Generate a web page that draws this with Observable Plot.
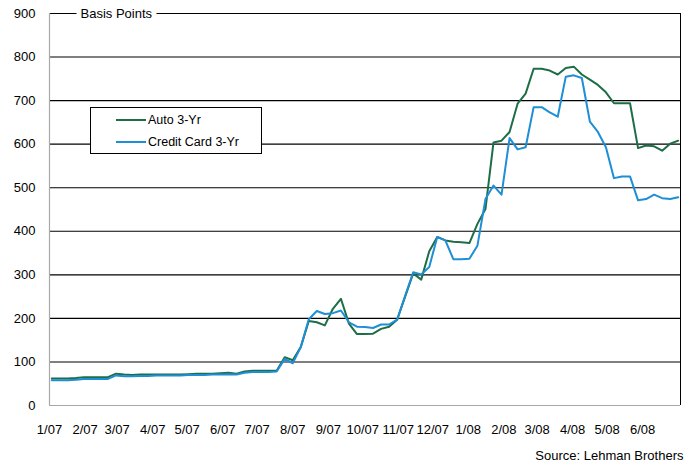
<!DOCTYPE html>
<html>
<head>
<meta charset="utf-8">
<script src="https://cdn.jsdelivr.net/npm/d3@7"></script>
<script src="https://cdn.jsdelivr.net/npm/@observablehq/plot@0.6"></script>
<style>
  html, body { margin: 0; padding: 0; background: #fff; }
  #wrap { position: relative; width: 689px; height: 463px; font-family: "Liberation Sans", Arial, sans-serif; }
  #legend { position: absolute; left: 90px; top: 107px; width: 170px; height: 45px; border: 1px solid #000; background: #fff; font-size: 12.5px; color: #000; }
  .row { position: absolute; left: 0; height: 16px; width: 100%; }
  .sw { position: absolute; left: 25px; width: 30px; top: 7px; height: 2px; }
  .lb { position: absolute; left: 57px; top: 0; line-height: 16px; white-space: nowrap; }
</style>
</head>
<body>
<div id="wrap"></div>
<script>
// ---- data (weekly observations, basis points) ----
const seriesNames = ["Auto 3-Yr", "Credit Card 3-Yr"];
const seriesColors = ["#1d6e47", "#1e8ed6"];

const startDate = "2007-01-03"; // first weekly observation
const autoValues = [
  62, 62, 62, 63, 65, 65, 65, 65, 73, 71,
  70, 71, 71, 71, 71, 71, 71, 72, 73, 73,
  73, 74, 75, 73, 78, 80, 80, 80, 80, 111,
  104, 134, 194, 191, 184, 222, 245, 188, 164, 164,
  165, 176, 181, 197, 250, 303, 289, 354, 387, 379,
  376, 375, 373, 417, 451, 604, 608, 628, 693, 716,
  773, 773, 769, 760, 775, 778, 760, 748, 736, 719,
  694, 694, 694, 591, 597, 595, 585, 601, 608
];
const cardValues = [
  58, 58, 58, 59, 61, 61, 61, 61, 69, 67,
  67, 68, 68, 69, 69, 69, 69, 70, 70, 70,
  71, 71, 72, 71, 75, 77, 77, 77, 78, 107,
  97, 134, 198, 217, 210, 212, 218, 191, 181, 180,
  178, 186, 186, 197, 252, 306, 301, 318, 387, 379,
  336, 336, 337, 367, 474, 505, 484, 614, 588, 593,
  685, 685, 673, 663, 755, 758, 752, 652, 628, 593,
  522, 526, 526, 471, 474, 484, 476, 474, 478
];

const xTickLabels = ["1/07","2/07","3/07","4/07","5/07","6/07","7/07","8/07","9/07",
  "10/07","11/07","12/07","1/08","2/08","3/08","4/08","5/08","6/08"];
const yTicks = [0, 100, 200, 300, 400, 500, 600, 700, 800, 900];
const xDomain = [new Date(Date.UTC(2007, 0, 1)), new Date(Date.UTC(2008, 6, 4))];

// ---- build table ----
const start = new Date(startDate + "T00:00:00Z");
const data = autoValues.map((v, i) => ({
  date: d3.utcDay.offset(start, 7 * i),
  auto: v,
  card: cardValues[i]
}));
const xTickDates = xTickLabels.map(s => {
  const [m, y] = s.split("/");
  return new Date(Date.UTC(2000 + +y, +m - 1, 1));
});
const fmt = d3.utcFormat("%-m/%y");

const chart = Plot.plot({
  width: 689,
  height: 463,
  marginLeft: 49,
  marginRight: 9,
  marginTop: 13,
  marginBottom: 58,
  style: { fontFamily: "'Liberation Sans', Arial, sans-serif", fontSize: "13px", color: "#000", background: "#fff", overflow: "visible" },
  x: { type: "utc", domain: xDomain, ticks: xTickDates, tickFormat: fmt, tickSize: 0, tickPadding: 19, label: null },
  y: { domain: [0, 900], ticks: yTicks, tickSize: 0, tickPadding: 14, label: null },
  marks: [
    Plot.ruleY(yTicks.filter(d => d > 0), { stroke: "#000", strokeWidth: 1.1 }),
    Plot.ruleY([0], { stroke: "#a8a8a8", strokeWidth: 1.2 }),
    Plot.ruleX([xDomain[0]], { stroke: "#a8a8a8", strokeWidth: 1.2 }),
    Plot.ruleX([xDomain[1]], { stroke: "#000", strokeWidth: 1 }),
    Plot.text(["Basis Points"], {
      frameAnchor: "top-left", dx: 31, textAnchor: "start", lineAnchor: "middle",
      fill: "#000", stroke: "#fff", strokeWidth: 10, strokeLinejoin: "round", fontSize: 13
    }),
    Plot.line(data, { x: "date", y: "auto", stroke: seriesColors[0], strokeWidth: 2 }),
    Plot.line(data, { x: "date", y: "card", stroke: seriesColors[1], strokeWidth: 2 }),
    Plot.text(["Source: Lehman Brothers"], {
      frameAnchor: "bottom-right", dx: 3, dy: 50, textAnchor: "end", lineAnchor: "middle",
      fill: "#000", fontSize: 13
    })
  ]
});

const wrap = document.getElementById("wrap");
wrap.appendChild(chart);

// legend box
const legend = document.createElement("div");
legend.id = "legend";
seriesNames.forEach((name, i) => {
  const row = document.createElement("div");
  row.className = "row";
  row.style.top = (4 + i * 22) + "px";
  const sw = document.createElement("div");
  sw.className = "sw";
  sw.style.background = seriesColors[i];
  sw.style.height = (i === 0 ? 1.5 : 2) + "px";
  const lb = document.createElement("div");
  lb.className = "lb";
  lb.textContent = name;
  row.appendChild(sw);
  row.appendChild(lb);
  legend.appendChild(row);
});
wrap.appendChild(legend);
</script>
</body>
</html>
